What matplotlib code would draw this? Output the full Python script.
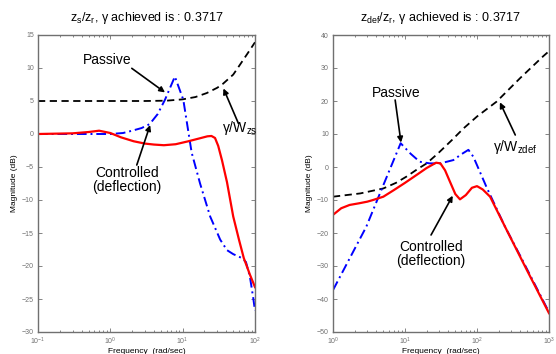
import matplotlib
matplotlib.use('Agg')
import matplotlib.pyplot as plt
from matplotlib.ticker import LogLocator, NullFormatter, MultipleLocator

plt.rcParams['font.family'] = ['Liberation Sans', 'DejaVu Sans']
plt.rcParams['mathtext.fontset'] = 'custom'
plt.rcParams['mathtext.rm'] = 'Liberation Sans'
plt.rcParams['mathtext.it'] = 'Liberation Sans'

# ---- left panel: z_s / z_r ----
freq_zs_passive = [0.1, 0.3, 1.0, 1.5, 2.0, 2.7, 3.5, 4.5, 5.7, 7.8, 10.2, 13.3, 17.4, 24, 33, 41, 50, 66, 75, 85, 95, 100]
mag_zs_passive = [0, 0, 0.0, 0.15, 0.5, 0.9, 1.5, 3.0, 5.2, 8.7, 5.2, -2.8, -7.5, -12.5, -16.0, -17.6, -18.2, -18.8, -19.4, -21.6, -25.0, -26.8]

freq_zs_ctrl = [0.1, 0.3, 0.5, 0.7, 1.0, 1.4, 2.1, 3.0, 4.0, 5.5, 8, 12, 18, 22, 25, 28, 31, 35, 41, 50, 60, 70, 85, 100]
mag_zs_ctrl = [0, 0.1, 0.3, 0.5, 0.15, -0.5, -1.1, -1.45, -1.6, -1.7, -1.55, -1.1, -0.6, -0.35, -0.3, -0.6, -1.8, -4.0, -7.3, -12.5, -16.0, -18.8, -21.3, -23.2]

freq_zs_bound = [0.1, 1, 3, 6, 10, 15, 21.5, 30, 36, 50, 62, 80, 100]
mag_zs_bound = [5, 5, 5, 5.05, 5.25, 5.6, 6.2, 7.0, 7.6, 9.0, 10.5, 12.3, 13.9]

# ---- right panel: z_def / z_r ----
freq_def_passive = [1, 2.9, 5, 8.7, 12, 16, 22, 31, 47, 60, 76, 89, 135, 245, 400, 600, 1000]
mag_def_passive = [-37.3, -18.1, -5.5, 7.2, 4.0, 1.6, 1.1, 1.1, 2.1, 3.8, 5.2, 3.1, -6.0, -18.1, -27.0, -34.5, -44.0]

freq_def_ctrl = [1, 1.3, 1.7, 2.3, 3.0, 3.6, 5, 7, 10, 14.5, 20, 27, 31, 36, 42, 50, 58, 70, 85, 100, 120, 152, 257, 500, 1000]
mag_def_ctrl = [-14.5, -12.5, -11.5, -11.0, -10.5, -10.0, -9.0, -7.0, -4.8, -2.4, -0.3, 1.3, 1.1, -1.0, -4.4, -8.2, -9.8, -8.5, -6.3, -5.8, -6.8, -9.0, -19.0, -31.5, -44.3]

freq_def_bound = [1, 2.4, 5, 7.5, 10.5, 15, 20, 29, 45, 65, 100, 187, 400, 834, 1000]
mag_def_bound = [-9, -8, -6.5, -4.8, -2.9, -0.6, 1.1, 4.2, 8.2, 11.7, 15.3, 19.8, 27.0, 33.6, 35.1]

W, H = 556, 354
fig = plt.figure(figsize=(W / 100, H / 100), dpi=100)
ax1 = fig.add_axes([38 / W, 1 - 332 / H, 217 / W, 297 / H])
ax2 = fig.add_axes([333 / W, 1 - 332 / H, 216 / W, 297 / H])

dashdot = (0, (5, 2, 1, 2))
gray = '#707070'


def style_axes(ax, xlim, ylim, ystep):
    ax.set_xscale('log')
    ax.set_xlim(xlim)
    ax.set_ylim(ylim)
    ax.yaxis.set_major_locator(MultipleLocator(ystep))
    ax.xaxis.set_major_locator(LogLocator(base=10))
    ax.xaxis.set_minor_locator(LogLocator(base=10, subs=range(2, 10)))
    ax.xaxis.set_minor_formatter(NullFormatter())
    ax.tick_params(which='both', direction='in', top=True, right=True,
                   colors=gray, labelsize=5, width=0.6)
    ax.tick_params(axis='x', pad=3)
    ax.tick_params(axis='y', pad=3)
    ax.tick_params(which='major', length=3)
    ax.tick_params(which='minor', length=1.6)
    for s in ax.spines.values():
        s.set_color(gray)
        s.set_linewidth(1.0)
    ax.set_xlabel('Frequency  (rad/sec)', fontsize=6, labelpad=0.5)
    ax.set_ylabel('Magnitude (dB)', fontsize=6, labelpad=3)


def arrow(ax, tail, tip):
    ax.annotate('', xy=tip, xytext=tail,
                arrowprops=dict(arrowstyle='-|>', color='black', lw=1.2,
                                mutation_scale=8, shrinkA=0, shrinkB=0))


# left
ax1.plot(freq_zs_bound, mag_zs_bound, color='black', lw=1.3, ls=(0, (4, 2.5)))
ax1.plot(freq_zs_passive, mag_zs_passive, color='blue', lw=1.4, ls=dashdot)
ax1.plot(freq_zs_ctrl, mag_zs_ctrl, color='red', lw=1.6)
style_axes(ax1, (0.1, 100), (-30, 15), 5)
ax1.set_title(r'z$_\mathregular{s}$/z$_\mathregular{r}$, γ achieved is : 0.3717', fontsize=9, pad=10)

ax1.text(0.9, 11.2, 'Passive', fontsize=10, ha='center', va='center')
arrow(ax1, (1.98, 9.95), (5.7, 6.3))
ax1.text(1.7, -7.0, 'Controlled\n(deflection)', fontsize=10, ha='center', va='center', linespacing=1.0)
arrow(ax1, (2.32, -4.7), (3.55, 1.36))
ax1.text(35, 0.9, r'γ/W$_\mathregular{zs}$', fontsize=10, ha='left', va='center')
arrow(ax1, (59, 1.6), (36.6, 6.9))

# right
ax2.plot(freq_def_bound, mag_def_bound, color='black', lw=1.3, ls=(0, (4, 2.5)))
ax2.plot(freq_def_passive, mag_def_passive, color='blue', lw=1.4, ls=dashdot)
ax2.plot(freq_def_ctrl, mag_def_ctrl, color='red', lw=1.6)
style_axes(ax2, (1, 1000), (-50, 40), 10)
ax2.set_title(r'z$_\mathregular{def}$/z$_\mathregular{r}$, γ achieved is : 0.3717', fontsize=9, pad=10)

ax2.text(7.5, 22.5, 'Passive', fontsize=10, ha='center', va='center')
arrow(ax2, (7.3, 20.3), (8.8, 7.4))
ax2.text(167, 6.2, r'γ/W$_\mathregular{zdef}$', fontsize=10, ha='left', va='center')
arrow(ax2, (340, 9.7), (208, 19.6))
ax2.text(23, -26.5, 'Controlled\n(deflection)', fontsize=10, ha='center', va='center', linespacing=1.0)
arrow(ax2, (23, -20.6), (46, -8.7))

fig.savefig('out.png', dpi=100)
